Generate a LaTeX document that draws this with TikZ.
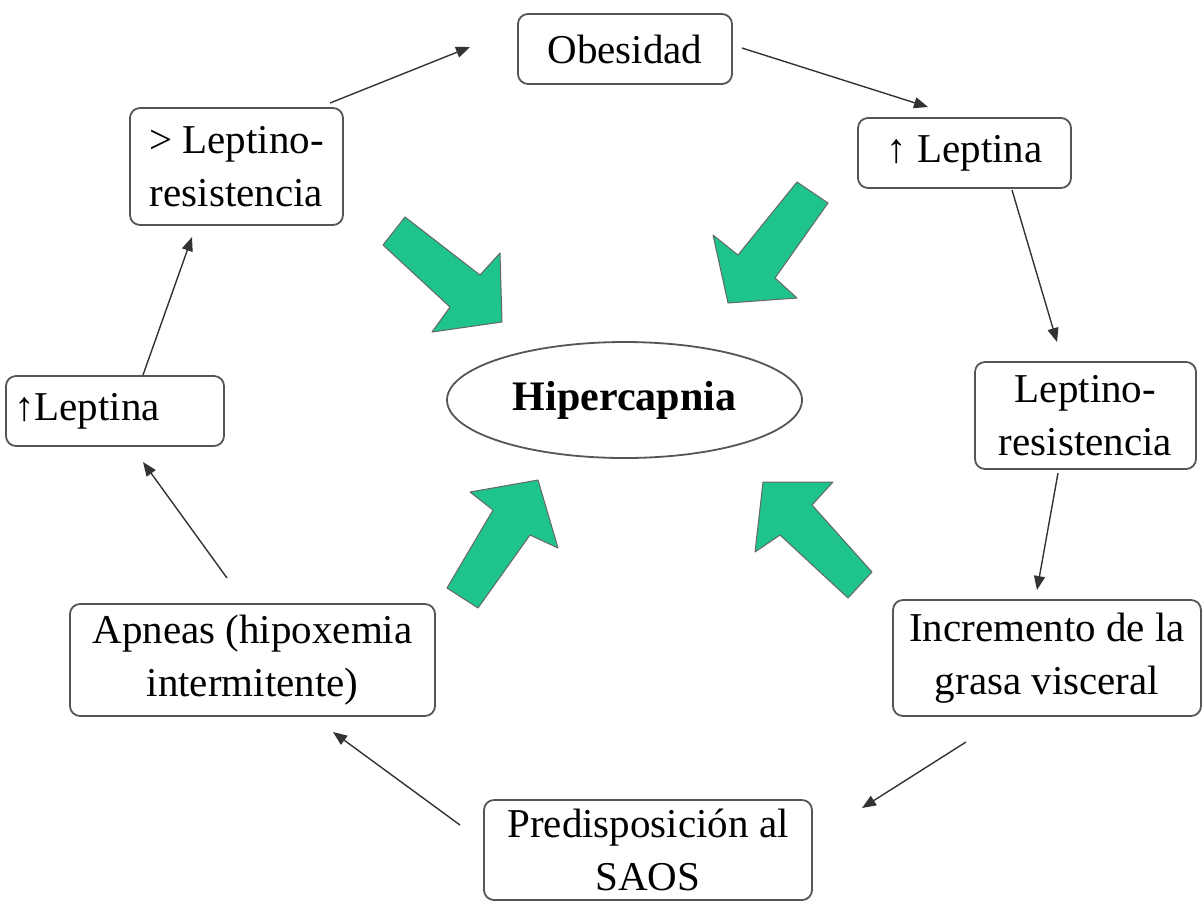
\documentclass[tikz,border=0pt]{standalone}
\usepackage{fontspec}
\setmainfont{Liberation Serif}
\usetikzlibrary{arrows.meta,shapes.geometric}
\definecolor{boxgray}{RGB}{85,85,85}
\definecolor{arrowgreen}{RGB}{30,196,140}
\begin{document}
\begin{tikzpicture}[x=0.5pt,y=-0.5pt,font=\fontsize{20.5}{26.5}\selectfont,
    >={Triangle[length=7pt,width=5.5pt]}]
      \tikzstyle{box}=[draw=boxgray,line width=0.9pt,rounded corners=5pt,align=center,inner sep=2pt]
      \tikzstyle{cycle arrow}=[->,draw=black!80,line width=0.7pt]
      \tikzstyle{green arrow}=[fill=arrowgreen,draw=black!60,line width=0.5pt,line join=round]
      \useasboundingbox (0,0) rectangle (1204,902);

      % the cycle
      \node(ob)[box,minimum width=107pt,minimum height=35pt] at (625,49) {Obesidad};
      \node(lepR)[box,minimum width=106.5pt,minimum height=35pt] at (964.5,153) {↑ Leptina};
      \node(resR)[box,minimum width=110.5pt,minimum height=53.5pt] at (1085.5,415.5) {Leptino-\\resistencia};
      \node(grasa)[box,minimum width=154pt,minimum height=58pt] at (1047,658) {Incremento de la\\ grasa visceral};
      \node(saos)[box,minimum width=164pt,minimum height=50pt] at (648,850) {Predisposición al\\SAOS};
      \node(apn)[box,minimum width=182.5pt,minimum height=56pt] at (252.5,660) {Apneas (hipoxemia\\intermitente)};
      \node(lepL)[box,text width=101pt,inner xsep=4pt,align=left,minimum height=35pt] at (115,411) {↑Leptina};
      \node(resL)[box,minimum width=106.5pt,minimum height=58.5pt] at (236.5,166.5) {> Leptino-\\resistencia};

      \node(hc)[draw=boxgray,line width=0.9pt,ellipse,minimum width=177.5pt,minimum height=58pt,
          font=\bfseries\fontsize{21}{25}\selectfont] at (624.5,400) {Hipercapnia};

      % free ends of the thin arrows
      \coordinate(a1) at (330,103);  \coordinate(b1) at (470,47);
      \coordinate(a2) at (742,48);   \coordinate(b2) at (928,107);
      \coordinate(a3) at (1012,190); \coordinate(b3) at (1057,342);
      \coordinate(a4) at (1058,473); \coordinate(b4) at (1037,590);
      \coordinate(a5) at (966,742);  \coordinate(b5) at (862,808);
      \coordinate(a6) at (460,825);  \coordinate(b6) at (333,732);
      \coordinate(a7) at (227,578);  \coordinate(b7) at (143,462);
      \coordinate(a8) at (143,375);  \coordinate(b8) at (192,237);

      \draw[cycle arrow] (a1) -- (b1);
      \draw[cycle arrow] (a2) -- (b2);
      \draw[cycle arrow] (a3) -- (b3);
      \draw[cycle arrow] (a4) -- (b4);
      \draw[cycle arrow] (a5) -- (b5);
      \draw[cycle arrow] (a6) -- (b6);
      \draw[cycle arrow] (a7) -- (b7);
      \draw[cycle arrow] (a8) -- (b8);

      % green arrows towards the centre
      \draw[green arrow] (383,245) -- (405,217) -- (480,275) -- (500,253) -- (502,322) -- (432,332) -- (450,307) -- cycle;
      \draw[green arrow] (797,182) -- (828,203) -- (775,278) -- (797,298) -- (728,303) -- (713,235) -- (738,255) -- cycle;
      \draw[green arrow] (447,588) -- (478,608) -- (530,535) -- (558,548) -- (538,480) -- (470,492) -- (493,510) -- cycle;
      \draw[green arrow] (872,572) -- (848,598) -- (780,535) -- (755,552) -- (763,482) -- (833,482) -- (812,505) -- cycle;
\end{tikzpicture}
\end{document}
